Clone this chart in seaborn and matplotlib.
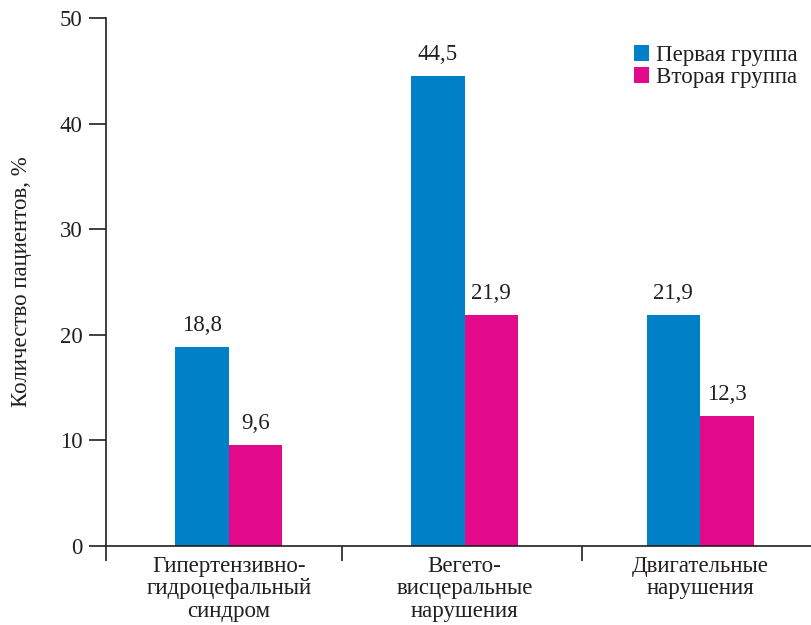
import pandas as pd
import seaborn as sns
import matplotlib.pyplot as plt
from matplotlib.ticker import FixedLocator

# Values
categories = ['Гипертензивно-\nгидроцефальный\nсиндром',
              'Вегето-\nвисцеральные\nнарушения',
              'Двигательные\nнарушения']
groups = ['Первая группа', 'Вторая группа']
group1 = [18.8, 44.5, 21.9]
group2 = [9.6, 21.9, 12.3]

df = pd.DataFrame({
    'category': categories * 2,
    'group': [groups[0]] * 3 + [groups[1]] * 3,
    'value': group1 + group2,
})

sns.set_theme(style="ticks")
plt.rcParams['font.family'] = ['Liberation Serif', 'DejaVu Serif']
text_color = '#231f20'
plt.rcParams['text.color'] = text_color
plt.rcParams['axes.labelcolor'] = text_color
plt.rcParams['xtick.color'] = text_color
plt.rcParams['ytick.color'] = text_color

fig = plt.figure(figsize=(8.11, 6.25), dpi=100)
ax = fig.add_axes([106 / 811, 1 - 546 / 625, 1 - 106 / 811, (546 - 18) / 625])

sns.barplot(data=df, x='category', y='value', hue='group',
            order=categories, hue_order=groups,
            palette=['#0080c6', '#e2098a'], width=0.454, gap=0,
            saturation=1, errorbar=None, linewidth=0, ax=ax)

for container in ax.containers:
    ax.bar_label(container,
                 labels=[f'{v:.1f}'.replace('.', ',') for v in container.datavalues],
                 padding=8, fontsize=16.5, color=text_color)

ax.set_ylim(0, 50)
ax.set_xlim(-0.522, 2.471)
ax.set_yticks([0, 10, 20, 30, 40, 50])
ax.tick_params(axis='y', labelsize=16.5, length=12, width=1.2, pad=5, direction='out')
ax.tick_params(axis='x', which='major', length=0, labelsize=16.5, pad=7)
# category separators below the axis
ax.xaxis.set_minor_locator(FixedLocator([-0.522, 0.48, 1.5]))
ax.tick_params(axis='x', which='minor', length=11, width=1.2, direction='out')
for lbl in ax.get_xticklabels():
    lbl.set_linespacing(1.1)

ax.set_xlabel('')
ax.set_ylabel('Количество пациентов, %', fontsize=16.5, labelpad=20)

sns.despine(ax=ax)
for side in ['left', 'bottom']:
    ax.spines[side].set_linewidth(1.2)
    ax.spines[side].set_color(text_color)

ax.legend(loc='upper right', bbox_to_anchor=(1.0, 0.975), frameon=False,
          fontsize=16.5, handlelength=0.65, handleheight=0.65,
          handletextpad=0.3, labelspacing=0.05, borderaxespad=0.2)

plt.savefig('out.png', dpi=100)
